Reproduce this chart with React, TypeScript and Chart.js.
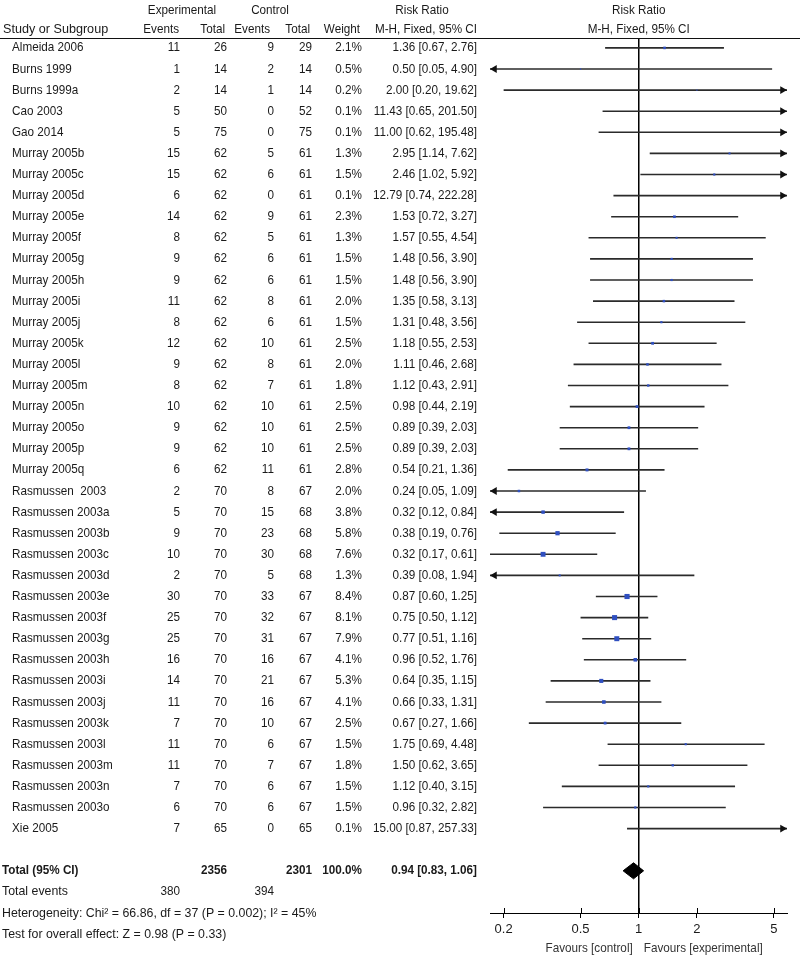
import React, { useEffect, useRef } from "react";
import { Chart, registerables } from "chart.js";

Chart.register(...registerables);

const studies = [
  "Almeida 2006", "Burns 1999", "Burns 1999a", "Cao 2003", "Gao 2014",
  "Murray 2005b", "Murray 2005c", "Murray 2005d", "Murray 2005e", "Murray 2005f",
  "Murray 2005g", "Murray 2005h", "Murray 2005i", "Murray 2005j", "Murray 2005k",
  "Murray 2005l", "Murray 2005m", "Murray 2005n", "Murray 2005o", "Murray 2005p",
  "Murray 2005q", "Rasmussen  2003", "Rasmussen 2003a", "Rasmussen 2003b", "Rasmussen 2003c",
  "Rasmussen 2003d", "Rasmussen 2003e", "Rasmussen 2003f", "Rasmussen 2003g", "Rasmussen 2003h",
  "Rasmussen 2003i", "Rasmussen 2003j", "Rasmussen 2003k", "Rasmussen 2003l", "Rasmussen 2003m",
  "Rasmussen 2003n", "Rasmussen 2003o", "Xie 2005",
];
const expEvents = [11, 1, 2, 5, 5, 15, 15, 6, 14, 8, 9, 9, 11, 8, 12, 9, 8, 10, 9, 9, 6, 2, 5, 9, 10, 2, 30, 25, 25, 16, 14, 11, 7, 11, 11, 7, 6, 7];
const expTotal = [26, 14, 14, 50, 75, 62, 62, 62, 62, 62, 62, 62, 62, 62, 62, 62, 62, 62, 62, 62, 62, 70, 70, 70, 70, 70, 70, 70, 70, 70, 70, 70, 70, 70, 70, 70, 70, 65];
const ctrlEvents = [9, 2, 1, 0, 0, 5, 6, 0, 9, 5, 6, 6, 8, 6, 10, 8, 7, 10, 10, 10, 11, 8, 15, 23, 30, 5, 33, 32, 31, 16, 21, 16, 10, 6, 7, 6, 6, 0];
const ctrlTotal = [29, 14, 14, 52, 75, 61, 61, 61, 61, 61, 61, 61, 61, 61, 61, 61, 61, 61, 61, 61, 61, 67, 68, 68, 68, 68, 67, 67, 67, 67, 67, 67, 67, 67, 67, 67, 67, 65];
const weights = [2.1, 0.5, 0.2, 0.1, 0.1, 1.3, 1.5, 0.1, 2.3, 1.3, 1.5, 1.5, 2.0, 1.5, 2.5, 2.0, 1.8, 2.5, 2.5, 2.5, 2.8, 2.0, 3.8, 5.8, 7.6, 1.3, 8.4, 8.1, 7.9, 4.1, 5.3, 4.1, 2.5, 1.5, 1.8, 1.5, 1.5, 0.1];
const riskRatio = [1.36, 0.5, 2.0, 11.43, 11.0, 2.95, 2.46, 12.79, 1.53, 1.57, 1.48, 1.48, 1.35, 1.31, 1.18, 1.11, 1.12, 0.98, 0.89, 0.89, 0.54, 0.24, 0.32, 0.38, 0.32, 0.39, 0.87, 0.75, 0.77, 0.96, 0.64, 0.66, 0.67, 1.75, 1.5, 1.12, 0.96, 15.0];
const ciLow = [0.67, 0.05, 0.2, 0.65, 0.62, 1.14, 1.02, 0.74, 0.72, 0.55, 0.56, 0.56, 0.58, 0.48, 0.55, 0.46, 0.43, 0.44, 0.39, 0.39, 0.21, 0.05, 0.12, 0.19, 0.17, 0.08, 0.6, 0.5, 0.51, 0.52, 0.35, 0.33, 0.27, 0.69, 0.62, 0.4, 0.32, 0.87];
const ciHigh = [2.76, 4.9, 19.62, 201.5, 195.48, 7.62, 5.92, 222.28, 3.27, 4.54, 3.9, 3.9, 3.13, 3.56, 2.53, 2.68, 2.91, 2.19, 2.03, 2.03, 1.36, 1.09, 0.84, 0.76, 0.61, 1.94, 1.25, 1.12, 1.16, 1.76, 1.15, 1.31, 1.66, 4.48, 3.65, 3.15, 2.82, 257.33];

const totalExp = 2356;
const totalCtrl = 2301;
const totalWeight = "100.0%";
const totalRR = 0.94;
const totalLow = 0.83;
const totalHigh = 1.06;
const totalEventsExp = 380;
const totalEventsCtrl = 394;
const heterogeneityText = "Heterogeneity: Chi\u00B2 = 66.86, df = 37 (P = 0.002); I\u00B2 = 45%";
const overallText = "Test for overall effect: Z = 0.98 (P = 0.33)";
const tickValues = [0.2, 0.5, 1, 2, 5];
const tickLabels = ["0.2", "0.5", "1", "2", "5"];

const X_MIN = 0.17;
const X_MAX = 5.85;
const Y_MIN = -0.47;
const Y_MAX = 41;
const ARROW_INSET = 1.055;
const TOTAL_ROW = studies.length + 1;

const FONT_FAMILY = "'Liberation Sans Narrow', 'Arial Narrow', 'Liberation Sans', Arial, sans-serif";
const TEXT_COLOR = "#1a1a1a";
const SX = 0.9;
const SX_FOOT = 0.95;

const fmt2 = (v: number) => v.toFixed(2);
const rrText = (r: number, l: number, h: number) => `${fmt2(r)} [${fmt2(l)}, ${fmt2(h)}]`;

export default function App() {
  const ref = useRef<HTMLCanvasElement | null>(null);

  useEffect(() => {
    document.body.style.margin = "0";
    const canvas = ref.current;
    if (!canvas) return;

    const ciData: any[] = [];
    studies.forEach((_, i) => {
      ciData.push({ x: ciLow[i], y: i });
      ciData.push({ x: ciHigh[i], y: i });
      ciData.push({ x: 1, y: null });
    });
    const rightArrows = studies
      .map((_, i) => (ciHigh[i] > X_MAX ? { x: X_MAX / ARROW_INSET, y: i } : null))
      .filter(Boolean);
    const leftArrows = studies
      .map((_, i) => (ciLow[i] < X_MIN ? { x: X_MIN * ARROW_INSET, y: i } : null))
      .filter(Boolean);
    const pointData = studies.map((_, i) => ({ x: riskRatio[i], y: i }));
    const pointRadii = weights.map((w) => Math.max(0.9, 1.25 * Math.sqrt(w)));
    const dh = 0.38;
    const diamond = [
      { x: totalLow, y: TOTAL_ROW },
      { x: totalRR, y: TOTAL_ROW - dh },
      { x: totalHigh, y: TOTAL_ROW },
      { x: totalRR, y: TOTAL_ROW + dh },
      { x: totalLow, y: TOTAL_ROW },
    ];

    const textPlugin = {
      id: "forestText",
      afterDraw(chart: any) {
        const ctx = chart.ctx as CanvasRenderingContext2D;
        const ys = chart.scales.y;
        const xs = chart.scales.x;
        const area = chart.chartArea;
        const font = (size: number, bold = false) => `${bold ? "bold " : ""}${size}px ${FONT_FAMILY}`;
        const text = (s: string, x: number, y: number, align: CanvasTextAlign, f: string, sx = SX) => {
          ctx.save();
          ctx.font = f;
          ctx.textAlign = align;
          ctx.textBaseline = "middle";
          ctx.translate(x, y);
          ctx.scale(sx, 1);
          ctx.fillText(s, 0, 0);
          ctx.restore();
        };
        ctx.save();
        ctx.fillStyle = TEXT_COLOR;
        const hf = font(13);
        // headers
        text("Experimental", 182, 10, "center", hf);
        text("Control", 270, 10, "center", hf);
        text("Risk Ratio", 422, 10, "center", hf);
        text("Risk Ratio", xs.getPixelForValue(1), 10, "center", hf);
        text("Study or Subgroup", 3, 29, "left", hf, 0.97);
        text("Events", 179, 29, "right", hf);
        text("Total", 225, 29, "right", hf);
        text("Events", 270, 29, "right", hf);
        text("Total", 310, 29, "right", hf);
        text("Weight", 360, 29, "right", hf);
        text("M-H, Fixed, 95% CI", 477, 29, "right", hf);
        text("M-H, Fixed, 95% CI", xs.getPixelForValue(1), 29, "center", hf);

        // header rule
        ctx.strokeStyle = "#111";
        ctx.lineWidth = 1;
        ctx.beginPath();
        ctx.moveTo(0, area.top + 0.5);
        ctx.lineTo(800, area.top + 0.5);
        ctx.stroke();

        // rows
        const rf = font(13);
        studies.forEach((s, i) => {
          const y = ys.getPixelForValue(i);
          text(s, 12, y, "left", rf);
          text(String(expEvents[i]), 180, y, "right", rf);
          text(String(expTotal[i]), 227, y, "right", rf);
          text(String(ctrlEvents[i]), 274, y, "right", rf);
          text(String(ctrlTotal[i]), 312, y, "right", rf);
          text(weights[i].toFixed(1) + "%", 362, y, "right", rf);
          text(rrText(riskRatio[i], ciLow[i], ciHigh[i]), 477, y, "right", rf);
        });

        // totals
        const bf = font(13, true);
        const ty = ys.getPixelForValue(TOTAL_ROW);
        text("Total (95% CI)", 2, ty, "left", bf);
        text(String(totalExp), 227, ty, "right", bf);
        text(String(totalCtrl), 312, ty, "right", bf);
        text(totalWeight, 362, ty, "right", bf);
        text(rrText(totalRR, totalLow, totalHigh), 477, ty, "right", bf);
        const ey = ys.getPixelForValue(TOTAL_ROW + 1);
        text("Total events", 2, ey, "left", rf, SX_FOOT);
        text(String(totalEventsExp), 180, ey, "right", rf);
        text(String(totalEventsCtrl), 274, ey, "right", rf);
        text(heterogeneityText, 2, ys.getPixelForValue(TOTAL_ROW + 2), "left", rf, SX_FOOT);
        text(overallText, 2, ys.getPixelForValue(TOTAL_ROW + 3), "left", rf, SX_FOOT);

        // favours labels
        const fx = xs.getPixelForValue(1);
        ctx.fillStyle = "#333";
        text("Favours [control]", fx - 6, 948, "right", font(13));
        text("Favours [experimental]", fx + 5, 948, "left", font(13));

        // upper tick marks
        ctx.strokeStyle = "#000";
        ctx.lineWidth = 1;
        tickValues.forEach((v) => {
          const px = Math.round(xs.getPixelForValue(v)) + 0.5;
          ctx.beginPath();
          ctx.moveTo(px, area.bottom - 5);
          ctx.lineTo(px, area.bottom);
          ctx.stroke();
        });
        ctx.restore();
      },
    };

    const chart = new Chart(canvas, {
      type: "scatter",
      data: {
        datasets: [
          {
            data: [{ x: 1, y: Y_MIN }, { x: 1, y: Y_MAX }],
            showLine: true,
            borderColor: "#000",
            borderWidth: 1,
            pointRadius: 0,
            order: 5,
          },
          {
            data: ciData,
            showLine: true,
            spanGaps: false,
            borderColor: "#2b2b2b",
            borderWidth: 1.6,
            pointRadius: 0,
            order: 4,
          },
          {
            data: rightArrows,
            pointStyle: "triangle",
            rotation: 90,
            pointRadius: 4.5,
            backgroundColor: "#111",
            borderColor: "#111",
            borderWidth: 0,
            order: 3,
          },
          {
            data: leftArrows,
            pointStyle: "triangle",
            rotation: -90,
            pointRadius: 4.5,
            backgroundColor: "#111",
            borderColor: "#111",
            borderWidth: 0,
            order: 3,
          },
          {
            data: pointData,
            pointStyle: "rect",
            pointRadius: pointRadii,
            backgroundColor: "#2f4fc0",
            borderColor: "#2f4fc0",
            borderWidth: 0,
            order: 2,
          },
          {
            data: diamond,
            showLine: true,
            fill: "shape",
            backgroundColor: "#000",
            borderColor: "#000",
            borderWidth: 1,
            pointRadius: 0,
            order: 1,
          },
        ] as any,
      },
      options: {
        animation: false,
        responsive: false,
        maintainAspectRatio: false,
        events: [],
        layout: { padding: { left: 490, right: 13, top: 38, bottom: 0 } },
        plugins: { legend: { display: false }, tooltip: { enabled: false } },
        scales: {
          x: {
            type: "logarithmic",
            min: X_MIN,
            max: X_MAX,
            position: "bottom",
            afterBuildTicks: (s: any) => {
              s.ticks = tickValues.map((v) => ({ value: v }));
            },
            afterFit: (s: any) => {
              s.height = 46;
            },
            grid: { display: true, drawOnChartArea: false, drawTicks: true, tickLength: 5, color: "#000", lineWidth: 1 },
            border: { display: true, color: "#000", width: 1 },
            ticks: {
              autoSkip: false,
              maxRotation: 0,
              padding: 4,
              color: TEXT_COLOR,
              font: { family: FONT_FAMILY, size: 13 },
              callback: (_v: any, i: number) => tickLabels[i],
            },
          },
          y: {
            type: "linear",
            reverse: true,
            min: Y_MIN,
            max: Y_MAX,
            display: false,
          },
        },
      } as any,
      plugins: [textPlugin],
    });

    return () => chart.destroy();
  }, []);

  return (
    <div style={{ width: 800, height: 959, background: "#fff" }}>
      <canvas ref={ref} width={800} height={959} style={{ display: "block" }} />
    </div>
  );
}
